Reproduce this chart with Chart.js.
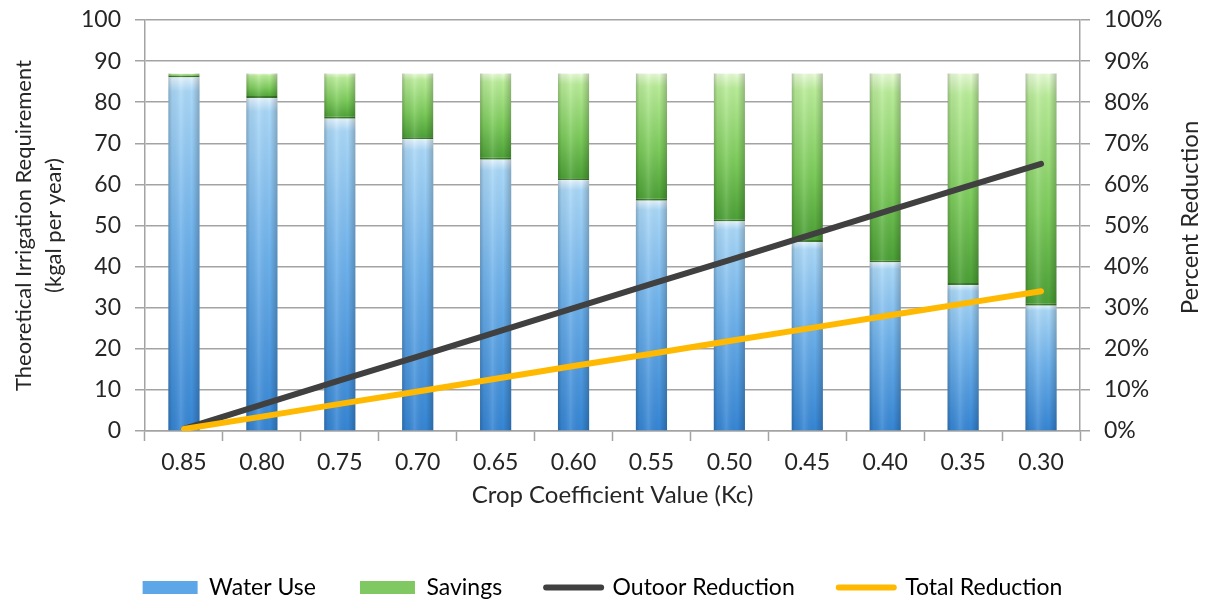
<!DOCTYPE html>
<html>
<head>
<meta charset="utf-8">
<script src="https://cdn.jsdelivr.net/npm/chart.js@4.4.1/dist/chart.umd.min.js"></script>
<style>
  html, body { margin: 0; padding: 0; background: #ffffff; }
  #wrap { width: 1205px; height: 599px; }
</style>
</head>
<body>
<div id="wrap"><canvas id="chart" width="1205" height="599"></canvas></div>
<script>
// Crop coefficient categories (x axis)
const cropCoefficients = ['0.85', '0.80', '0.75', '0.70', '0.65', '0.60', '0.55', '0.50', '0.45', '0.40', '0.35', '0.30'];

// Theoretical irrigation requirement, kgal per year (stacked bars)
const waterUse = [86, 81, 76, 71, 66, 61, 56, 51, 46, 41, 35.5, 30.5];
const savings  = [1, 6, 11, 16, 21, 26, 31, 36, 41, 46, 51.5, 56.5];

// Percent reduction (right axis)
const outdoorReduction = [0.5, 6.4, 12.3, 18.1, 24, 29.9, 35.8, 41.6, 47.5, 53.4, 59.2, 65];
const totalReduction   = [0.5, 3.5, 6.6, 9.6, 12.7, 15.8, 18.8, 21.9, 24.9, 28, 31, 34];

// Axis ranges
const leftAxisMax = 100;
const rightAxisMax = 100;
const tickStep = 10;

const FONT = 'Lato, "Open Sans", sans-serif';
const TEXT = '#262626';
const GRID = '#a3a3a3';

// Vertical gradient for a stacked bar segment, spanning that segment only
function segmentGradient(baseValues, values, stops) {
  return (ctx) => {
    const chart = ctx.chart;
    const y = chart.scales.y;
    if (!y || ctx.type !== 'data') return stops[stops.length - 1][1];
    const i = ctx.dataIndex;
    const base = baseValues ? baseValues[i] : 0;
    const top = y.getPixelForValue(base + values[i]);
    const bottom = y.getPixelForValue(base);
    if (!isFinite(top) || !isFinite(bottom) || top === bottom) return stops[stops.length - 1][1];
    const g = chart.ctx.createLinearGradient(0, top, 0, bottom);
    stops.forEach(([p, c]) => g.addColorStop(p, c));
    return g;
  };
}

const blueStops = [[0, '#e3f3fe'], [0.04, '#a9d7f7'], [0.45, '#70b3ec'], [1, '#3585d4']];
const greenStops = [[0, '#e8fbd8'], [0.1, '#b9ec98'], [0.6, '#7ccb5b'], [1, '#4a9f35']];

// Side shading so the bars read as rounded columns
const columnShade = {
  id: 'columnShade',
  afterDatasetDraw(chart, args) {
    const ds = chart.data.datasets[args.index];
    if (ds.type !== 'bar') return;
    const c = chart.ctx;
    c.save();
    args.meta.data.forEach((bar) => {
      const { x, y, base, width } = bar.getProps(['x', 'y', 'base', 'width'], true);
      const l = x - width / 2;
      const g = c.createLinearGradient(l, 0, l + width, 0);
      g.addColorStop(0, 'rgba(0,0,0,0.22)');
      g.addColorStop(0.12, 'rgba(0,0,0,0.05)');
      g.addColorStop(0.4, 'rgba(255,255,255,0.12)');
      g.addColorStop(0.75, 'rgba(0,0,0,0.0)');
      g.addColorStop(1, 'rgba(0,0,0,0.22)');
      c.fillStyle = g;
      c.fillRect(l, Math.min(y, base), width, Math.abs(base - y));
    });
    c.restore();
  }
};

// Right-hand axis title, reading bottom to top
const rightAxisTitle = {
  id: 'rightAxisTitle',
  afterDraw(chart) {
    const s = chart.scales.y1;
    const c = chart.ctx;
    c.save();
    c.translate(s.right - 15, (chart.chartArea.top + chart.chartArea.bottom) / 2 - 8);
    c.rotate(-Math.PI / 2);
    c.font = '24px ' + FONT;
    c.fillStyle = TEXT;
    c.textAlign = 'center';
    c.textBaseline = 'middle';
    c.fillText('Percent Reduction', 0, 0);
    c.restore();
  }
};

const chart = new Chart(document.getElementById('chart'), {
  data: {
    labels: cropCoefficients,
    datasets: [
      {
        type: 'line',
        label: 'Total Reduction',
        data: totalReduction,
        yAxisID: 'y1',
        borderColor: '#ffb900',
        borderWidth: 6,
        borderCapStyle: 'round',
        pointRadius: 0,
        tension: 0,
        order: 0
      },
      {
        type: 'line',
        label: 'Outoor Reduction',
        data: outdoorReduction,
        yAxisID: 'y1',
        borderColor: '#404040',
        borderWidth: 6,
        borderCapStyle: 'round',
        pointRadius: 0,
        tension: 0,
        order: 1
      },
      {
        type: 'bar',
        label: 'Water Use',
        data: waterUse,
        yAxisID: 'y',
        backgroundColor: segmentGradient(null, waterUse, blueStops),
        borderWidth: 0,
        categoryPercentage: 1,
        barPercentage: 0.4,
        order: 2
      },
      {
        type: 'bar',
        label: 'Savings',
        data: savings,
        yAxisID: 'y',
        backgroundColor: segmentGradient(waterUse, savings, greenStops),
        borderColor: '#3b7a2a',
        borderWidth: { top: 0, left: 0, right: 0, bottom: 2 },
        borderSkipped: false,
        categoryPercentage: 1,
        barPercentage: 0.4,
        order: 2
      }
    ]
  },
  options: {
    responsive: false,
    animation: false,
    devicePixelRatio: 1,
    layout: { padding: { top: 20, right: 0, bottom: -10, left: 0 } },
    plugins: {
      tooltip: { enabled: false },
      legend: {
        position: 'bottom',
        labels: {
          usePointStyle: true,
          pointStyleWidth: 55,
          boxHeight: 13,
          padding: 44,
          color: TEXT,
          font: { family: FONT, size: 23 },
          generateLabels: () => [
            { text: 'Water Use', fillStyle: '#5da7e8', strokeStyle: '#5da7e8', lineWidth: 0, pointStyle: 'rect', datasetIndex: 2 },
            { text: 'Savings', fillStyle: '#80c962', strokeStyle: '#80c962', lineWidth: 0, pointStyle: 'rect', datasetIndex: 3 },
            { text: 'Outoor Reduction', fillStyle: '#404040', strokeStyle: '#404040', lineWidth: 6, lineCap: 'round', pointStyle: 'line', datasetIndex: 1 },
            { text: 'Total Reduction', fillStyle: '#ffb900', strokeStyle: '#ffb900', lineWidth: 6, lineCap: 'round', pointStyle: 'line', datasetIndex: 0 }
          ]
        }
      }
    },
    scales: {
      x: {
        stacked: true,
        grid: { offset: true, drawOnChartArea: false, color: GRID, tickLength: 10, tickWidth: 1.5 },
        border: { color: GRID, width: 1.5 },
        ticks: { color: TEXT, font: { family: FONT, size: 23 }, padding: 8 },
        title: {
          display: true,
          text: 'Crop Coefficient Value (Kc)',
          color: TEXT,
          font: { family: FONT, size: 24 },
          padding: { top: 0, bottom: 22 }
        },
        afterFit: (s) => { s.height = 101; }
      },
      y: {
        stacked: true,
        position: 'left',
        min: 0,
        max: leftAxisMax,
        grid: { color: GRID, lineWidth: 1.5, tickLength: 10 },
        border: { color: GRID, width: 1.5 },
        ticks: { stepSize: tickStep, color: TEXT, font: { family: FONT, size: 23, lineHeight: 0.5 }, padding: 14 },
        title: {
          display: true,
          text: ['Theoretical Irrigation Requirement', '(kgal per year)'],
          color: TEXT,
          font: { family: FONT, size: 22, lineHeight: 1.35 },
          padding: { top: 9, bottom: 0 }
        },
        afterFit: (s) => { s.width = 145; }
      },
      y1: {
        position: 'right',
        min: 0,
        max: rightAxisMax,
        grid: { drawOnChartArea: false, color: GRID, lineWidth: 1.5, tickLength: 10 },
        border: { color: GRID, width: 1.5 },
        ticks: { stepSize: tickStep, color: TEXT, font: { family: FONT, size: 23, lineHeight: 0.5 }, padding: 14, callback: (v) => v + '%' },
        afterFit: (s) => { s.width = 125; }
      }
    }
  },
  plugins: [columnShade, rightAxisTitle]
});
</script>
</body>
</html>
